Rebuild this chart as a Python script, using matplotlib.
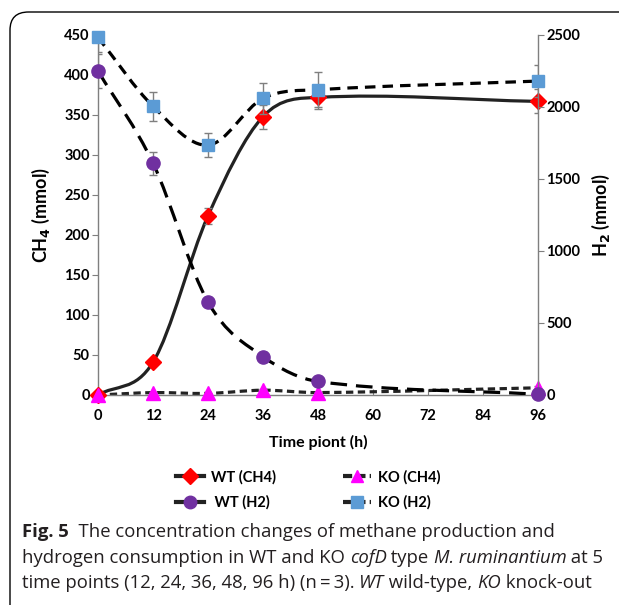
import numpy as np
import matplotlib
matplotlib.use("Agg")
import matplotlib.pyplot as plt
from matplotlib.path import Path
from matplotlib.patches import PathPatch, FancyBboxPatch
from matplotlib.lines import Line2D

# time points (h)
time_h = [0, 12, 24, 36, 48, 96]

# CH4 (left axis, mmol)
wt_ch4 = [0, 41, 224, 348, 372, 367]
wt_ch4_err = [0, 3, 10, 15, 15, 15]
ko_ch4 = [0, 3, 2, 6, 3, 9]
ko_ch4_err = [0, 1, 1, 2, 1, 2]

# H2 (right axis, mmol)
wt_h2 = [2250, 1610, 645, 267, 94, 5]
wt_h2_err = [115, 80, 20, 30, 10, 5]
ko_h2 = [2483, 2005, 1735, 2060, 2120, 2180]
ko_h2_err = [100, 100, 85, 110, 120, 110]

x_ticks = [0, 12, 24, 36, 48, 60, 72, 84, 96]
left_ticks = [0, 50, 100, 150, 200, 250, 300, 350, 400, 450]
right_ticks = [0, 500, 1000, 1500, 2000, 2500]

tick_font = "Lato"
cap_font = "Open Sans"
grey = "#7f7f7f"


def smooth_path(x, y):
    # smoothed line like Excel: cubic Hermite with Catmull-Rom slopes, as Bezier
    x = np.asarray(x, float)
    y = np.asarray(y, float)
    n = len(x)
    m = np.zeros(n)
    for i in range(n):
        a = max(i - 1, 0)
        b = min(i + 1, n - 1)
        m[i] = (y[b] - y[a]) / (x[b] - x[a])
    verts = [(x[0], y[0])]
    codes = [Path.MOVETO]
    for i in range(n - 1):
        h = (x[i + 1] - x[i]) / 3
        verts += [(x[i] + h, y[i] + m[i] * h),
                  (x[i + 1] - h, y[i + 1] - m[i + 1] * h),
                  (x[i + 1], y[i + 1])]
        codes += [Path.CURVE4] * 3
    return Path(verts, codes)


fig = plt.figure(figsize=(6.19, 6.05), dpi=100)

# rounded frame around figure panel
frame = FancyBboxPatch((10 / 619, -0.05), 1.1, 1 - 12 / 605 + 0.05,
                       boxstyle="round,pad=0,rounding_size=0.03",
                       transform=fig.transFigure, fill=False,
                       lw=1.0, ec="black", clip_on=False)
fig.patches.append(frame)

ax = fig.add_axes([98 / 619, 1 - 395 / 605, 440 / 619, 360 / 605])
ax2 = ax.twinx()

ax.set_xlim(0, 96)
ax.set_ylim(0, 450)
ax2.set_ylim(0, 2500)

lw = 2.3
styles = {
    "wt_ch4": "solid",
    "ko_ch4": (0, (2.3, 1.4)),
    "wt_h2": (0, (5.2, 2.8)),
    "ko_h2": (0, (3.3, 2.2)),
}

# lines
ax.add_patch(PathPatch(smooth_path(time_h, wt_ch4), fill=False, ec="#222222",
                       lw=lw, ls=styles["wt_ch4"], zorder=2))
ax.add_patch(PathPatch(smooth_path(time_h, ko_ch4), fill=False, ec="#222222",
                       lw=lw, ls=styles["ko_ch4"], zorder=2))
ax2.add_patch(PathPatch(smooth_path(time_h, wt_h2), fill=False, ec="black",
                        lw=lw, ls=styles["wt_h2"], zorder=2))
ax2.add_patch(PathPatch(smooth_path(time_h, ko_h2), fill=False, ec="black",
                        lw=lw, ls=styles["ko_h2"], zorder=2))

# error bars
eb = dict(fmt="none", ecolor=grey, elinewidth=1.0, capsize=3, capthick=1.0, zorder=3)
ax.errorbar(time_h, wt_ch4, yerr=wt_ch4_err, **eb)
ax.errorbar(time_h, ko_ch4, yerr=ko_ch4_err, **eb)
ax2.errorbar(time_h, wt_h2, yerr=wt_h2_err, **eb)
ax2.errorbar(time_h, ko_h2, yerr=ko_h2_err, **eb)

# markers
ax.plot(time_h, wt_ch4, ls="none", marker="D", ms=8.5, color="#ff0000", zorder=4, clip_on=False)
ax.plot(time_h, ko_ch4, ls="none", marker="^", ms=10, color="#ff00ff", zorder=4, clip_on=False)
ax2.plot(time_h, wt_h2, ls="none", marker="o", ms=9.5, color="#7030a0", zorder=4, clip_on=False)
ax2.plot(time_h, ko_h2, ls="none", marker="s", ms=9, color="#5b9bd5", zorder=4, clip_on=False)

# axes styling
for a in (ax, ax2):
    a.spines["top"].set_visible(False)
    for s in ("left", "right", "bottom"):
        a.spines[s].set_color(grey)
        a.spines[s].set_linewidth(1.0)
ax.spines["right"].set_visible(False)
ax2.spines["left"].set_visible(False)
ax2.spines["bottom"].set_visible(False)

ax.set_xticks(x_ticks)
ax.set_yticks(left_ticks)
ax2.set_yticks(right_ticks)
ax.tick_params(axis="x", direction="in", length=4, color=grey, pad=10)
ax.tick_params(axis="y", direction="out", length=4, color=grey, pad=2)
ax2.tick_params(axis="y", direction="out", length=4, color=grey, pad=2)
for lab in ax.get_xticklabels() + ax.get_yticklabels() + ax2.get_yticklabels():
    lab.set_fontfamily(tick_font)
    lab.set_fontweight("bold")
    lab.set_fontsize(10.5)

ax.set_xlabel("Time piont (h)", fontfamily=tick_font, fontweight="bold",
              fontsize=11.5, labelpad=9)
ax.set_ylabel("CH$_\\mathbf{4}$ (mmol)", fontfamily=tick_font, fontweight="bold",
              fontsize=13)
ax2.set_ylabel("H$_\\mathbf{2}$ (mmol)", fontfamily=tick_font, fontweight="bold",
               fontsize=13, rotation=90)
ax.yaxis.set_label_coords(-0.105, 0.5)
ax2.yaxis.set_label_coords(1.118, 0.5)

# legend
handles = [
    Line2D([], [], color="#222222", lw=3, ls="solid", marker="D", ms=8,
           mfc="#ff0000", mec="#ff0000"),
    Line2D([], [], color="#222222", lw=3, ls="solid", marker="o", ms=9,
           mfc="#7030a0", mec="#7030a0"),
    Line2D([], [], color="#222222", lw=3, ls=(0, (2.2, 1.0)), marker="^", ms=9,
           mfc="#ff00ff", mec="#ff00ff"),
    Line2D([], [], color="#222222", lw=3, ls=(0, (2.2, 1.0)), marker="s", ms=8,
           mfc="#5b9bd5", mec="#5b9bd5"),
]
labels = ["WT (CH4)", " WT (H2)", "KO (CH4)", "KO (H2)"]
fig.legend(handles, labels, ncol=2, loc="center", bbox_to_anchor=(0.498, 1 - 490 / 605),
           frameon=False, handlelength=1.9, columnspacing=4.6, labelspacing=0.75,
           handletextpad=0.5, prop={"family": tick_font, "weight": "bold", "size": 10.5})

# caption, drawn piece by piece so italics can sit inline
cap_size = 13.3
renderer = fig.canvas.get_renderer()
caption = [
    [("Fig. 5", "bold", "normal"), ("  The concentration changes of methane production and", "normal", "normal")],
    [("hydrogen consumption in WT and KO ", "normal", "normal"), ("cofD", "normal", "italic"),
     (" type ", "normal", "normal"), ("M. ruminantium", "normal", "italic"), (" at 5", "normal", "normal")],
    [("time points (12, 24, 36, 48, 96 h) (n\u2009=\u20093). ", "normal", "normal"), ("WT", "normal", "italic"),
     (" wild-type, ", "normal", "normal"), ("KO", "normal", "italic"), (" knock-out", "normal", "normal")],
]
line_y = [532, 558, 583]
for parts, ypix in zip(caption, line_y):
    xpix = 22
    for txt, weight, style in parts:
        t = fig.text(xpix / 619, 1 - ypix / 605, txt, fontsize=cap_size,
                     family=[cap_font, "DejaVu Sans"], fontweight=weight,
                     fontstyle=style, va="center", ha="left", color="#231f20")
        bb = t.get_window_extent(renderer=renderer)
        xpix += bb.width

fig.savefig("out.png", dpi=100)
